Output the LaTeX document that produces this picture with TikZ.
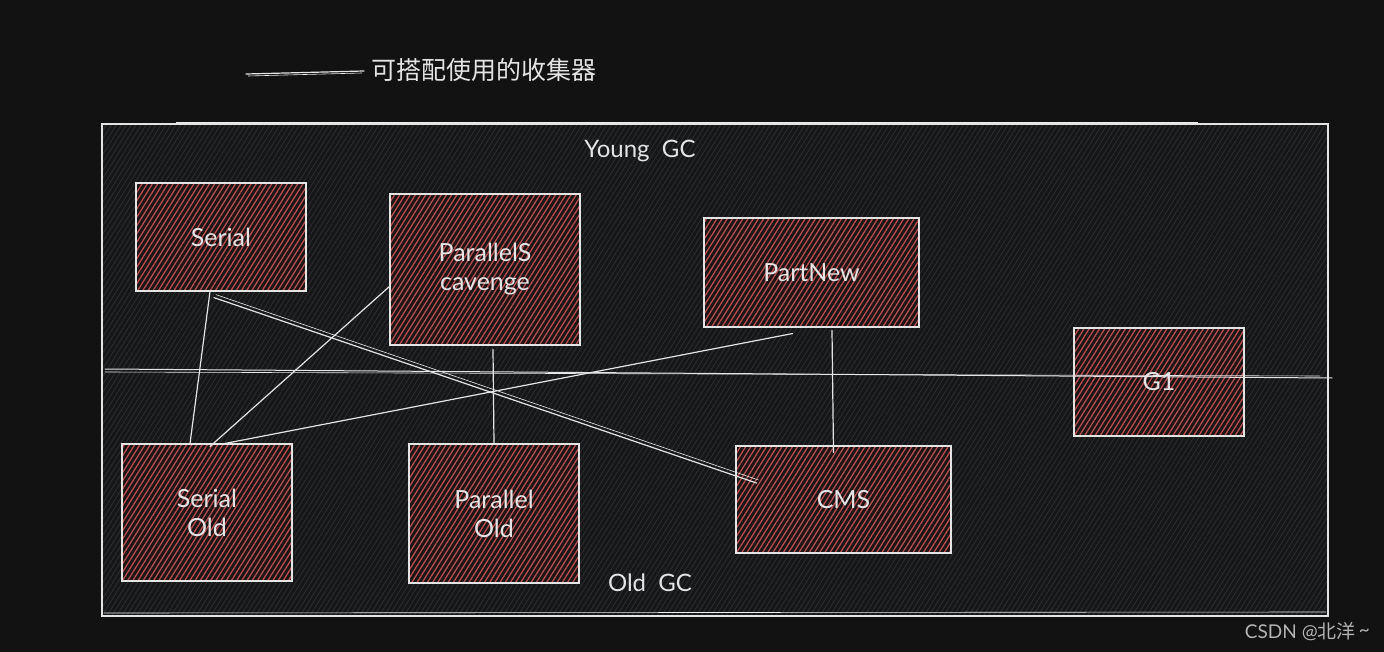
\documentclass[tikz,border=0pt]{standalone}
\usepackage{fontspec}
\setmainfont{Lato}
\newfontfamily\cjk{Noto Sans CJK SC}
\usetikzlibrary{patterns.meta}
\definecolor{bgc}{HTML}{121212}
\definecolor{framebg}{HTML}{161718}
\definecolor{framehatch}{HTML}{2A2C2E}
\definecolor{boxbg}{HTML}{1C1515}
\definecolor{boxhatch}{HTML}{B84E4E}
\definecolor{ink}{HTML}{E4E4E4}
\definecolor{wm}{HTML}{B4B4B4}
\tikzset{
  gcbox/.style={draw=ink, line width=1.1pt, rectangle, text=ink,
    font=\fontsize{25}{29}\selectfont, align=center, inner sep=0pt,
    preaction={fill=boxbg},
    pattern={Lines[angle=58,distance=4.4pt,line width=1.3pt]},
    pattern color=boxhatch},
  link/.style={draw=ink, line width=1.2pt, line cap=round},
  dbl/.style={draw=ink!85, line width=0.8pt, line cap=round},
  gclabel/.style={text=ink, font=\fontsize{24}{28}\selectfont, inner sep=0pt}
}
\begin{document}
\begin{tikzpicture}[x=1pt,y=-1pt]
\useasboundingbox (0,0) rectangle (1384,652);
\fill[bgc] (0,0) rectangle (1384,652);
% outer frame
\fill[framebg] (102,124) rectangle (1328,616);
\fill[pattern={Lines[angle=58,distance=4.2pt,line width=0.9pt]}, pattern color=framehatch] (102,124) rectangle (1328,616);
\draw[ink, line width=1.1pt] (102,124) rectangle (1328,616);
\draw[ink!70, line width=0.6pt] (176,122) -- (1198,122);
\draw[ink!70, line width=0.6pt] (104,613) -- (1326,612);
% legend
\coordinate (legA) at (246,74);
\coordinate (legB) at (364,71);
\draw[link] (legA) -- (legB);
\draw[ink!70, line width=0.6pt] (248,76) -- (362,73);
\node[anchor=west, text=ink, font=\cjk\fontsize{25}{29}\selectfont, inner sep=0pt] (legtext) at (371,70) {可搭配使用的收集器};
% boxes
\node[gcbox, minimum width=170pt, minimum height=108pt] (serial) at (221,237) {Serial};
\node[gcbox, minimum width=190pt, minimum height=151pt] (pscav) at (485,269.5) {ParallelS\\cavenge};
\node[gcbox, minimum width=215pt, minimum height=109pt] (pnew) at (811.5,272.5) {PartNew};
\node[gcbox, minimum width=170pt, minimum height=137pt] (sold) at (207,512.5) {Serial\\Old};
\node[gcbox, minimum width=170pt, minimum height=139pt] (pold) at (494,513.5) {Parallel\\Old};
\node[gcbox, minimum width=215pt, minimum height=107pt] (cms) at (843.5,499.5) {CMS};
\node[gcbox, minimum width=170pt, minimum height=108pt] (g1) at (1159,382) {G1};
% separator line
\coordinate (sepA) at (105,369);
\coordinate (sepB) at (1332,378);
\draw[link, line width=1pt] (sepA) -- (sepB);
\draw[dbl, line width=0.6pt] (105,372) -- (1320,376);
% labels
\node[gclabel] (young) at (640,151) {Young\ \ GC};
\node[gclabel] (old) at (650,583) {Old\ \ GC};
% connectors
\draw[link] ([xshift=-11pt]serial.south) -- ([xshift=-17pt]sold.north);
\draw[link] ([yshift=-17pt]pscav.west) -- ([xshift=3pt,yshift=-3pt]sold.north);
\draw[link] ([xshift=-19pt,yshift=-6pt]pnew.south) -- ([xshift=18pt]sold.north);
\draw[link] ([xshift=-7pt,yshift=-6pt]serial.south) -- ([xshift=21pt,yshift=16.5pt]cms.west);
\draw[dbl, line width=0.6pt] ([xshift=-5pt,yshift=-3pt]serial.south) -- ([xshift=23pt,yshift=19.5pt]cms.west);
\draw[link] ([xshift=8pt,yshift=-4pt]pscav.south) -- (pold.north);
\draw[link] ([xshift=20.5pt,yshift=-3pt]pnew.south) -- ([xshift=-10pt,yshift=-7pt]cms.north);
% watermark
\node[anchor=east, text=wm, font=\fontsize{19}{22}\selectfont, inner sep=0pt] (wmark) at (1370,632) {CSDN @{\cjk 北洋}\,\raisebox{2pt}{\~{}}};
\end{tikzpicture}
\end{document}
